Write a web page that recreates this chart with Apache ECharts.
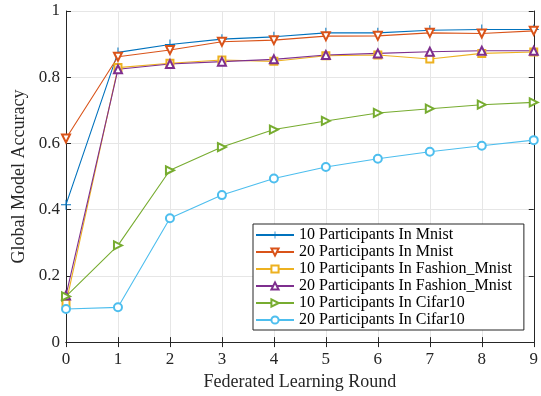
<!DOCTYPE html>
<html><head><meta charset="utf-8">
<script src="https://cdn.jsdelivr.net/npm/echarts@6/dist/echarts.min.js"></script>
<style>html,body{margin:0;padding:0;background:#fff}#c{width:541px;height:396px}</style>
</head><body><div id="c"></div>
<script>
const rounds = ['0','1','2','3','4','5','6','7','8','9'];
const names = ['10 Participants In Mnist','20 Participants In Mnist','10 Participants In Fashion_Mnist','20 Participants In Fashion_Mnist','10 Participants In Cifar10','20 Participants In Cifar10'];
const mnist10 = [0.415,0.875,0.899,0.915,0.922,0.934,0.934,0.942,0.944,0.944];
const mnist20 = [0.615,0.862,0.882,0.907,0.912,0.924,0.925,0.934,0.932,0.940];
const fashion10 = [0.117,0.829,0.842,0.852,0.848,0.865,0.867,0.855,0.872,0.876];
const fashion20 = [0.141,0.824,0.840,0.847,0.854,0.867,0.872,0.877,0.880,0.880];
const cifar10_10 = [0.138,0.292,0.519,0.589,0.642,0.668,0.692,0.705,0.717,0.724];
const cifar10_20 = [0.100,0.105,0.374,0.444,0.494,0.529,0.554,0.575,0.593,0.610];

const colors = ['#0072BD','#D95319','#EDB120','#7E2F8E','#77AC30','#4DBEEE'];
const plus = 'path://M4.5,0h1v10h-1z M0,4.5h10v1h-10z';
const symbols = [plus,'emptyTriangle','emptyRect','emptyTriangle','emptyTriangle','emptyCircle'];
const rotates = [0,180,0,0,-90,0];
const sizes = [10,8,7,8,8,8];
const datas = [mnist10,mnist20,fashion10,fashion20,cifar10_10,cifar10_20];
const font = 'Liberation Serif';
const axisCol = '#262626';

const chart = echarts.init(document.getElementById('c'));
chart.setOption({
  animation:false,
  color: colors,
  textStyle:{fontFamily:font},
  grid:{left:66,right:4,top:11,bottom:52},
  legend:{
    orient:'vertical', left:253, top:224,
    backgroundColor:'#fff', borderColor:axisCol, borderWidth:1, borderRadius:0,
    padding:[3,12,2,2], itemWidth:38, itemHeight:9, itemGap:1,
    textStyle:{fontFamily:font,fontSize:16,color:'#000'},
    data:names
  },
  xAxis:[{
    type:'category', data:rounds, boundaryGap:false,
    name:'Federated Learning Round', nameLocation:'middle', nameGap:29,
    nameTextStyle:{fontFamily:font,fontSize:18,color:'#262626'},
    axisLine:{lineStyle:{color:axisCol,width:1}},
    axisTick:{inside:true,length:5,alignWithLabel:true,lineStyle:{color:axisCol}},
    axisLabel:{fontFamily:font,fontSize:17,color:'#262626',margin:9},
    splitLine:{show:true,lineStyle:{color:'#e6e6e6',width:1}}
  },{
    type:'category', data:rounds, boundaryGap:false, position:'top',
    axisLine:{lineStyle:{color:axisCol,width:1}},
    axisTick:{inside:true,length:5,lineStyle:{color:axisCol}},
    axisLabel:{show:false}, splitLine:{show:false}
  }],
  yAxis:[{
    type:'value', min:0, max:1, interval:0.2,
    name:'Global Model Accuracy', nameLocation:'middle', nameGap:34,
    nameTextStyle:{fontFamily:font,fontSize:18,color:'#262626'},
    axisLine:{show:true,lineStyle:{color:axisCol,width:1}},
    axisTick:{show:true,inside:true,length:5,lineStyle:{color:axisCol}},
    axisLabel:{fontFamily:font,fontSize:17,color:'#262626',margin:6,formatter:v=>String(+v.toFixed(1))},
    splitLine:{show:true,lineStyle:{color:'#e6e6e6',width:1}}
  },{
    type:'value', min:0, max:1, interval:0.2, position:'right',
    axisLine:{show:true,lineStyle:{color:axisCol,width:1}},
    axisTick:{show:true,inside:true,length:5,lineStyle:{color:axisCol}},
    axisLabel:{show:false}, splitLine:{show:false}
  }],
  series: names.map((n,i)=>({
    name:n, type:'line', data:datas[i], xAxisIndex:0, yAxisIndex:0,
    symbol:symbols[i], symbolSize:sizes[i], symbolRotate:rotates[i], showAllSymbol:true,
    lineStyle:{width:1.1,color:colors[i]},
    itemStyle:{color:colors[i],borderColor:colors[i],borderWidth:i===0?0:1},
    emphasis:{disabled:true}
  }))
});
</script></body></html>
